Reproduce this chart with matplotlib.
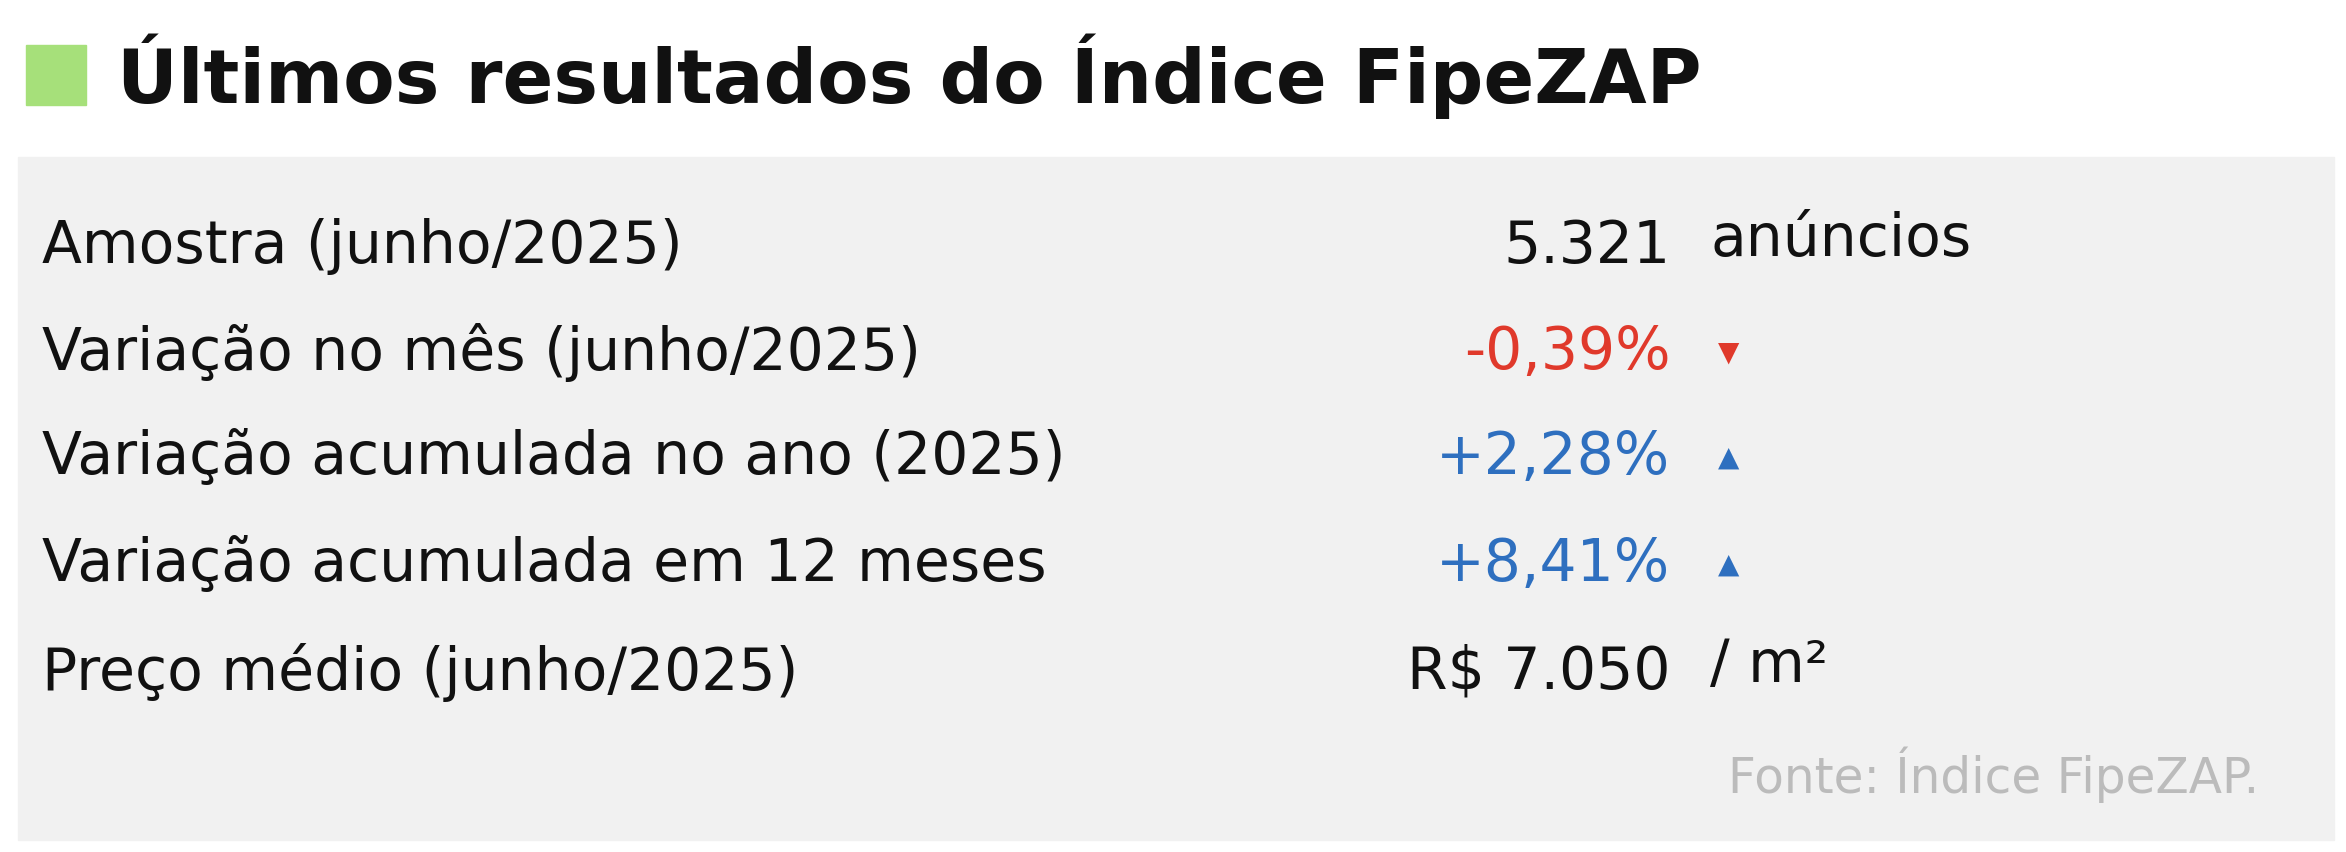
import matplotlib
matplotlib.use("Agg")
import matplotlib.pyplot as plt
from matplotlib.patches import Rectangle

title = "Últimos resultados do Índice FipeZAP"
labels = ["Amostra (junho/2025)", "Variação no mês (junho/2025)",
          "Variação acumulada no ano (2025)", "Variação acumulada em 12 meses",
          "Preço médio (junho/2025)"]
values = ["5.321", "-0,39%", "+2,28%", "+8,41%", "R$ 7.050"]
units = ["anúncios", "▼", "▲", "▲", "/ m²"]
value_colors = ["#111111", "#e0392b", "#2e6fbf", "#2e6fbf", "#111111"]
source = "Fonte: Índice FipeZAP."

plt.rcParams['font.family'] = ['DejaVu Sans']
fig = plt.figure(figsize=(23.46, 8.52), dpi=100)
fig.patch.set_facecolor("white")
ax = fig.add_axes([0, 0, 1, 1])
ax.set_xlim(0, 1); ax.set_ylim(1, 0); ax.axis("off")

ax.add_patch(Rectangle((0.011, 0.053), 0.0255, 0.07, color="#a6e07a"))
ax.text(0.05, 0.09, title, fontsize=54, fontweight="bold", va="center", ha="left", color="#111111")
ax.add_patch(Rectangle((0.0077, 0.184), 0.987, 0.802, color="#f1f1f1"))

ys = [0.289, 0.414, 0.537, 0.663, 0.789]
for y, lab, val, u, c in zip(ys, labels, values, units, value_colors):
    ax.text(0.018, y, lab, fontsize=42, va="center", ha="left", color="#111111")
    ax.text(0.712, y, val, fontsize=42, va="center", ha="right", color=c)
    if u in ("▼", "▲"):
        ax.text(0.737, y, u, fontsize=20, va="center", ha="center", color=c)
    else:
        ax.text(0.729, y - 0.008, u, fontsize=42, va="center", ha="left", color="#111111")
ax.text(0.963, 0.909, source, fontsize=35, va="center", ha="right", color="#bbbbbb")
fig.savefig("out.png", dpi=100)
